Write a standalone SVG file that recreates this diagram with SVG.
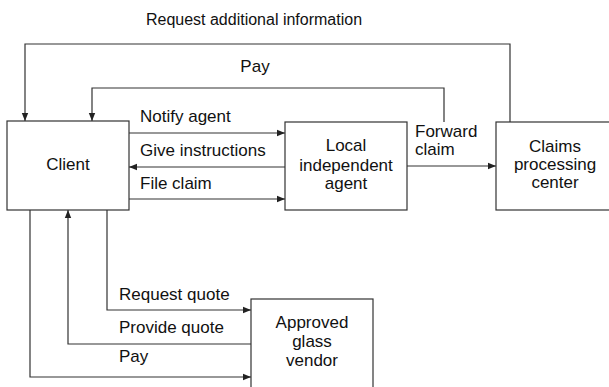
<svg xmlns="http://www.w3.org/2000/svg" width="609" height="387" viewBox="0 0 609 387">
<defs>
<marker id="ah" viewBox="0 0 10 10" refX="10" refY="5" markerWidth="8" markerHeight="8" orient="auto" markerUnits="userSpaceOnUse"><path d="M0,1 L10,5 L0,9 Z" fill="#222"/></marker>
<style>
.box{fill:#fff;stroke:#333;stroke-width:1.2}
.c{fill:none;stroke:#333;stroke-width:1.2;marker-end:url(#ah)}
text{font-family:"Liberation Sans","DejaVu Sans",sans-serif;font-size:17px;fill:#111}
.m{text-anchor:middle}
</style>
</defs>
<rect width="609" height="387" fill="#fff"/>
<g id="connectors">
<path class="c" d="M510,122 V44 H25 V121"/>
<path class="c" d="M444,122 V88 H92 V121"/>
<path class="c" d="M129,133 H285"/>
<path class="c" d="M285,167 H129"/>
<path class="c" d="M129,199 H285"/>
<path class="c" d="M407,166 H496"/>
<path class="c" d="M107,210 V310 H251"/>
<path class="c" d="M251,344 H68 V210"/>
<path class="c" d="M30,210 V377 H251"/>
<text x="254" y="25" class="m" style="font-size:16px">Request additional information</text>
<text x="255" y="72" class="m">Pay</text>
<text x="140" y="122">Notify agent</text>
<text x="140" y="156">Give instructions</text>
<text x="140" y="189">File claim</text>
<text x="415" y="137">Forward</text>
<text x="415" y="155">claim</text>
<text x="119" y="300">Request quote</text>
<text x="119" y="333">Provide quote</text>
<text x="119" y="362">Pay</text>
</g>
<g id="client">
<rect class="box" x="7" y="121" width="122" height="89"/>
<text x="68" y="170" class="m">Client</text>
</g>
<g id="agent">
<rect class="box" x="285" y="122" width="122" height="88"/>
<text x="346" y="151" class="m">Local</text>
<text x="346" y="171" class="m">independent</text>
<text x="346" y="189" class="m">agent</text>
</g>
<g id="claims">
<rect class="box" x="496" y="122" width="130" height="88"/>
<text x="555" y="152" class="m">Claims</text>
<text x="555" y="170" class="m">processing</text>
<text x="555" y="188" class="m">center</text>
</g>
<g id="vendor">
<rect class="box" x="251" y="299" width="122" height="100"/>
<text x="312" y="328" class="m">Approved</text>
<text x="312" y="347" class="m">glass</text>
<text x="312" y="366" class="m">vendor</text>
</g>
</svg>
